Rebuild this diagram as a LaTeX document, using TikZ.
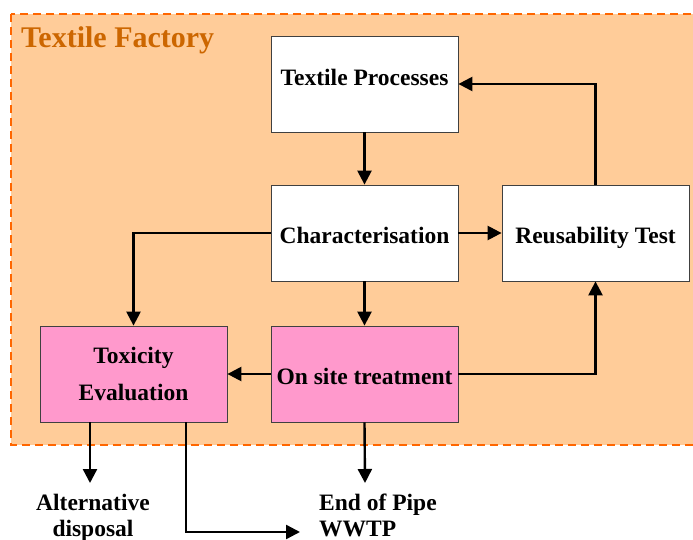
\documentclass[tikz,border=0pt]{standalone}
\usepackage{fontspec}
\setmainfont{Liberation Serif}
\usepackage[HTML]{xcolor}
\usetikzlibrary{positioning, arrows.meta}

\definecolor{peach}{HTML}{FFCC99}
\definecolor{rose}{HTML}{FF99CC}
\definecolor{dashorange}{HTML}{FF6600}
\definecolor{titleorange}{HTML}{CC6600}

\begin{document}
\begin{tikzpicture}[x=1pt, y=-1pt,
  box/.style={draw=black!75, line width=0.8pt, fill=white, minimum width=187pt, minimum height=96pt, inner sep=0pt, align=center, font=\fontsize{23.5}{27}\selectfont\bfseries},
  oneline/.style={text height=20pt, text depth=0pt},
  pinkbox/.style={box, fill=rose},
  flow/.style={line width=2.4pt, -{Triangle[length=14pt,width=14pt]}},
  outtext/.style={inner sep=0pt, font=\fontsize{23.5}{26}\selectfont\bfseries}]
\useasboundingbox (0,0) rectangle (693,540);

% Factory frame
\fill[peach] (11,14) rectangle (700,445);
\draw[dashorange, line width=2pt, dash pattern=on 8pt off 5pt] (11,14) rectangle (700,445);
\node[anchor=west, inner sep=0pt, text=titleorange, font=\fontsize{30}{32}\selectfont\bfseries] (title) at (21,40) {Textile Factory};

% Boxes
\node[box, text height=4pt, text depth=0pt] (tp) at (364.5,84) {Textile Processes};
\node[box, oneline] (char) at (364.5,233) {Characterisation};
\node[box, oneline] (reu) at (595.5,233) {Reusability Test};
\node[pinkbox] (tox) at (133.5,374) {Toxicity\\[10pt]Evaluation};
\node[pinkbox, oneline] (ons) at (364.5,374) {On site treatment};

% Outlets
\node[outtext, align=center, anchor=north] (alt) at (93,494) {Alternative\\disposal};
\node[outtext, align=left, anchor=north west] (eop) at (319,494) {End of Pipe\\WWTP};
\coordinate (altend) at (90,483);
\coordinate (eopend) at (365,483);
\coordinate (wwtpend) at (300,532);
\coordinate (bend) at (186,532);

% Connectors
\draw[flow] (tp) -- (char);
\draw[flow] (char) -- (reu);
\draw[flow] (reu.north) |- (tp.east);
\draw[flow] (char.west) -| (tox.north);
\draw[flow] (char) -- (ons);
\draw[flow] (ons) -- (tox);
\draw[flow] (ons.east) -| (reu.south);
\draw[flow] (tox.south -| altend) -- (altend);
\draw[flow] (tox.south -| bend) -- (bend) -- (wwtpend);
\draw[flow] (ons.south) -- (eopend);
\end{tikzpicture}
\end{document}
